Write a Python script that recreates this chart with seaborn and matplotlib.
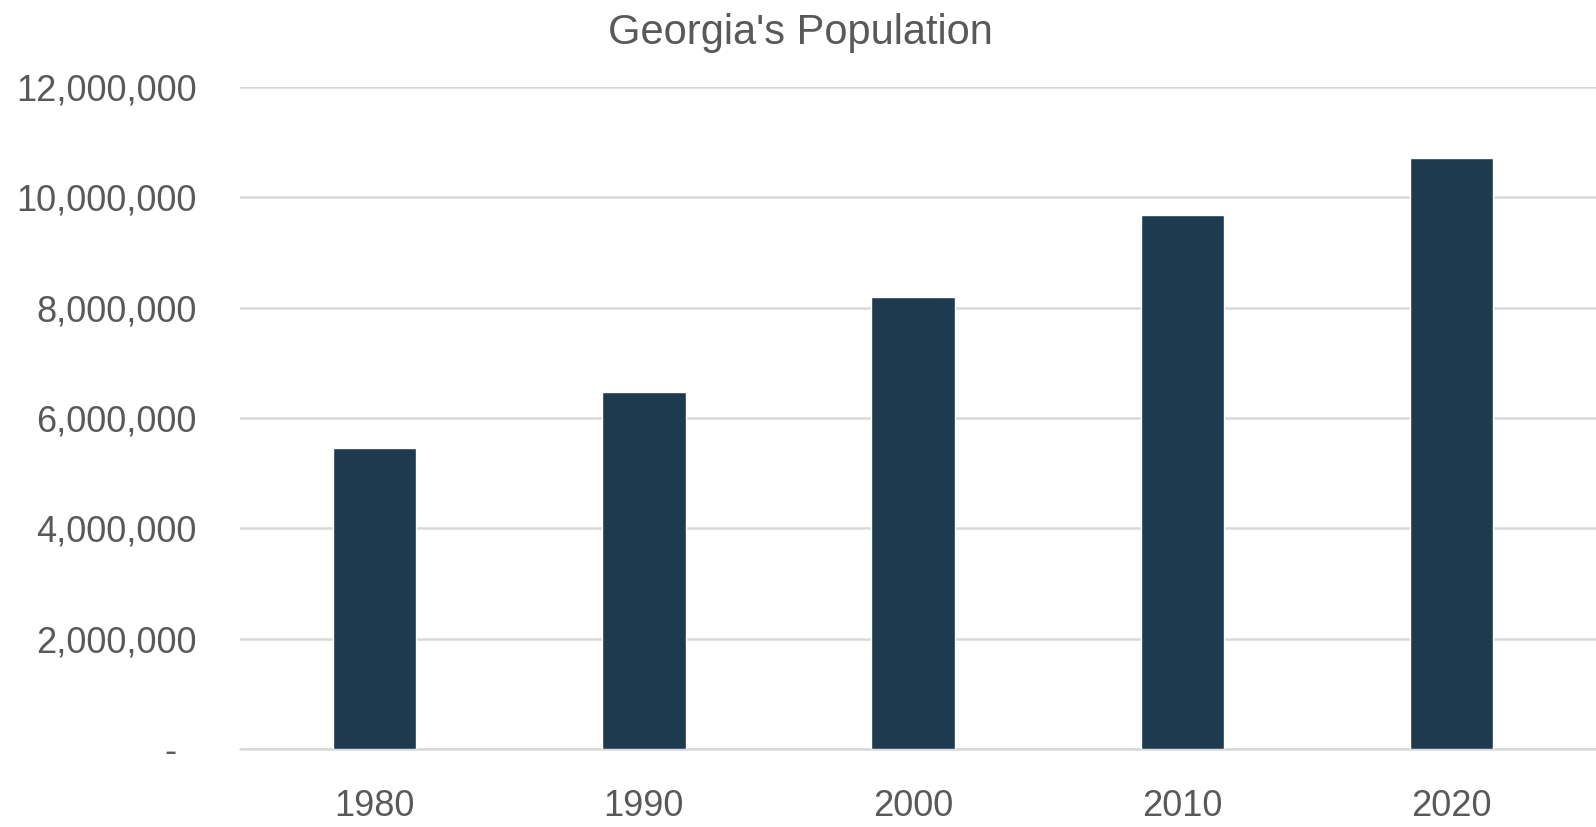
import matplotlib
matplotlib.use("Agg")
import matplotlib.pyplot as plt
import seaborn as sns
import pandas as pd
from matplotlib.ticker import FuncFormatter, MultipleLocator

years = ["1980", "1990", "2000", "2010", "2020"]
population = [5463105, 6478216, 8186453, 9687653, 10711908]

sns.set_theme(style="white")
plt.rcParams['font.family'] = ['Liberation Sans', 'DejaVu Sans']

text_color = "#595959"
bar_color = "#1D3A4E"
grid_color = "#D9D9D9"

df = pd.DataFrame({"year": years, "population": population})

fig = plt.figure(figsize=(15.96, 8.27), dpi=100)
ax = fig.add_axes([240/1596, (827-749)/827, 1 - 240/1596, (749-87)/827])

sns.barplot(data=df, x="year", y="population", color=bar_color, width=0.31,
            saturation=1, ax=ax, zorder=3)

ax.set_xlim(-0.5, -0.5 + (1596-240)/269.25)
ax.set_ylim(0, 12000000)
ax.yaxis.set_major_locator(MultipleLocator(2000000))

def fmt(v, pos):
    if abs(v) < 1:
        return "-  "
    return f"{int(round(v)):,}"

ax.yaxis.set_major_formatter(FuncFormatter(fmt))
ax.grid(axis="y", color=grid_color, linewidth=1.8, zorder=0)
ax.grid(axis="x", visible=False)
ax.axhline(0, color=grid_color, linewidth=1.8, zorder=2, clip_on=False)
for s in ax.spines.values():
    s.set_visible(False)

ax.tick_params(axis="y", length=0, pad=31, labelsize=26, labelcolor=text_color)
ax.tick_params(axis="x", length=0, pad=29, labelsize=26, labelcolor=text_color)
ax.set_xlabel("")
ax.set_ylabel("")

fig.suptitle("Georgia's Population", x=800/1596, y=1 - 13/827, va="top",
             fontsize=30, color=text_color)

fig.savefig("out.png", dpi=100, facecolor="white")
